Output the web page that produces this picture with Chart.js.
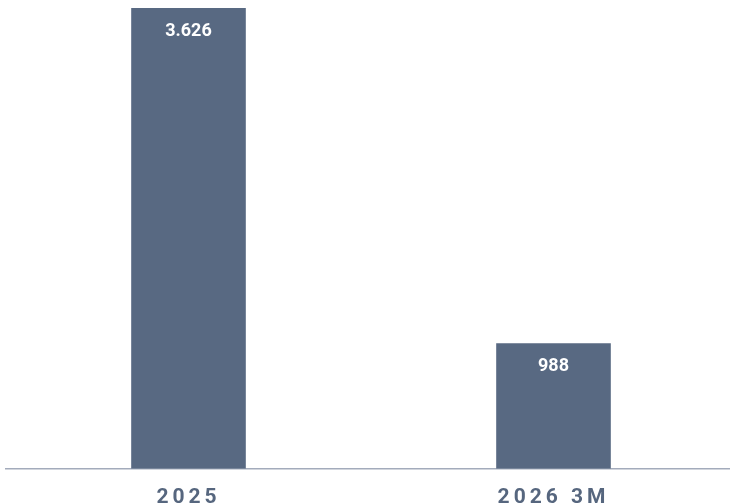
<!DOCTYPE html>
<html>
<head>
<meta charset="utf-8">
<script src="https://cdn.jsdelivr.net/npm/chart.js@4.4.1/dist/chart.umd.min.js"></script>
<style>
  html, body { margin: 0; padding: 0; background: #fff; overflow: hidden; }
  #wrap { width: 736px; height: 526px; }
</style>
</head>
<body>
<div id="wrap"><canvas id="chart"></canvas></div>
<script>
var labels = ['2025', '2026 3M'];
var values = [3626, 988];

function fmt(v) {
    return String(v).replace(/\B(?=(\d{3})+(?!\d))/g, '.');
}

// letter spacing for the axis labels, value labels drawn afterwards
var spacing = {
    id: 'spacing',
    beforeDraw: function (chart) {
        chart.ctx.letterSpacing = '4px';
    },
    afterDatasetsDraw: function (chart) {
        var ctx = chart.ctx;
        ctx.save();
        ctx.letterSpacing = '0px';
        ctx.fillStyle = '#ffffff';
        ctx.font = 'bold 18px Roboto';
        ctx.textAlign = 'center';
        ctx.textBaseline = 'middle';
        chart.getDatasetMeta(0).data.forEach(function (bar, i) {
            ctx.fillText(fmt(values[i]), bar.x, bar.y + 23);
        });
        ctx.restore();
    }
};

var ctx = document.getElementById('chart');
var chart = new Chart(ctx, {
    type: 'bar',
    data: {
        labels: labels,
        datasets: [{
            data: values,
            backgroundColor: '#586982',
            barPercentage: 0.314,
            categoryPercentage: 1
        }]
    },
    options: {
        responsive: true,
        maintainAspectRatio: false,
        animation: false,
        layout: { padding: { left: 6, right: 0, top: 8, bottom: 0 } },
        plugins: { legend: { display: false }, tooltip: { enabled: false } },
        scales: {
            x: {
                grid: { display: false, drawTicks: false },
                border: { display: true, color: '#a3abbb', width: 1.5 },
                ticks: {
                    color: '#56667e',
                    font: { family: 'Roboto', size: 21, weight: 'bold' },
                    padding: 16
                }
            },
            y: {
                display: false,
                min: 0,
                max: Math.max.apply(null, values)
            }
        }
    },
    plugins: [spacing]
});
</script>
</body>
</html>
